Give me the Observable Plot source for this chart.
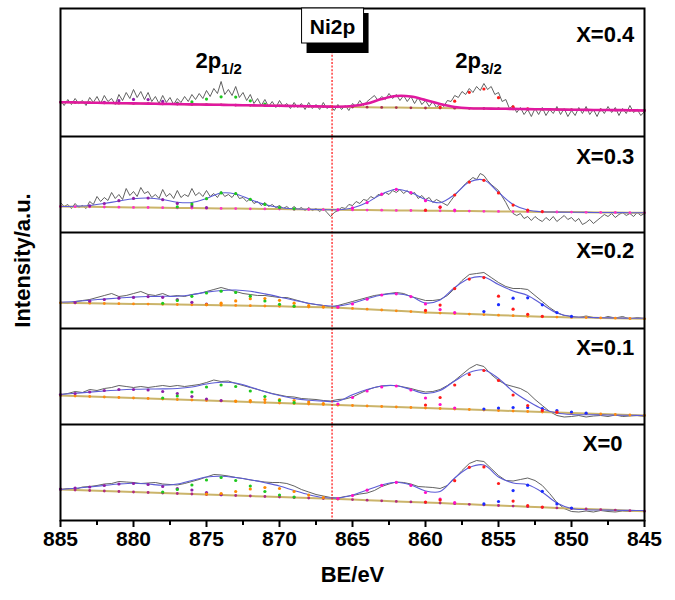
<!DOCTYPE html>
<html><head><meta charset="utf-8">
<script src="https://cdn.jsdelivr.net/npm/d3@7"></script>
<script src="https://cdn.jsdelivr.net/npm/@observablehq/plot@0.6"></script>
<style>
body{margin:0;background:#fff;}
#chart{width:675px;height:600px;}
</style></head><body><div id="chart"></div>
<script>
// ---------- DATA ----------
const panels = ["X=0.4", "X=0.3", "X=0.2", "X=0.1", "X=0"];
const xTicks = [885, 880, 875, 870, 865, 860, 855, 850, 845];
const xMinorTicks = [882.5, 877.5, 872.5, 867.5, 862.5, 857.5, 852.5, 847.5];
const refBE = 866.4;
const refLabel = "Ni2p";
const peakMain = ["2p", "2p"];
const peakSub = ["1/2", "3/2"];
const peakBE = [874.0, 856.2];
const xLabel = "BE/eV";
const yLabel = "Intensity/a.u.";

// raw spectra from 885 eV downward (X=0.4 and X=0.3 every 0.25 eV, the others every 0.5 eV)
const raw04 = [36,31,37,32, 38,33,36,31, 39,34,40,33, 41,35,38,32, 42,36,44,38, 47,39,45,37, 44,35,40,33, 41,34,39,32, 38,34,40,35, 42,37,43,38,
  46,40,48,43, 55,42,47,41, 50,39,44,36, 42,33,38,31, 37,30,35,29, 36,30,33,28, 34,29,33,27, 34,28,32,27, 34,28,31,26, 32,27,31,26,
  33,30,36,31, 35,38,41,36, 40,37,43,38, 42,36,41,35, 40,33,39,32, 36,30,35,29, 33,30,36,35, 41,39,45,42, 48,44,50,46, 53,47,50,42,
  44,35,37,28, 31,24,29,22, 27,20,28,22, 29,21,27,23, 30,22,28,20, 26,21,29,23, 30,22,27,20, 28,23,30,24, 29,21,28,23, 31,24,27,21, 25];
const raw03 = [30,26,28,24, 29,25,27,24, 31,28,36,31, 35,32,40,34, 38,33,44,37, 41,36,45,39, 41,35,38,34, 43,36,39,34, 42,35,38,36, 44,37,40,36,
  42,36,39,35, 41,36,38,35, 40,34,35,31, 34,29,31,27, 30,26,28,25, 27,24,26,23, 26,23,25,22, 25,22,24,21, 24,20,16,20, 22,25,24,28,
  27,31,29,33, 32,36,34,38, 37,40,38,42, 40,43,39,42, 38,40,34,37, 33,35,30,33, 31,29,27,32, 37,41,45,49, 52,55,53,59, 57,52,48,45,
  42,36,30,23, 19,17,19,14, 16,12,16,13, 11,15,12,16, 11,14,17,13, 15,11,14,8, 10,13,9,12, 15,18,16,19, 15,18,20,17, 19,16,20,17, 19];
const raw02 = [26,25,27,28,29,31,33,35,32,33, 35,37,34,33,35,32,33,32,34,35, 37,39,41,39,37,35,34,33,33,32, 31,31,29,27,25,24,23,21.5,23,25, 27,29,31,33,34,35,36,35,32,30, 28,28,29,33,40,48,54,55,56,51, 46,42,40,40,39,33,27,21,16,13, 12,11,12.5,11,10,12,10.5,12,9.5,11, 10];
const raw01 = [30,31,33,32,35,34,36,37,39,38, 37,38,37,38,39,38,39,38,39,40, 42,44.5,43,43.5,41,39,37,35,33,31, 29.5,28,27.5,26,25.5,25,24,23.5,25,25.5, 27.5,31,34.5,37,38.5,39,39,37.5,36,34, 32.5,33,35,39,44,50,56,60,58,50, 44,40,38,36,32,25,19,13,9,7.5, 8,9,7.5,8.5,9,8,9.5,8,8.5,9, 8];
const raw00 = [31,32,31,33.5,34,35,36.5,37,39,38.5, 38,37,37.5,38,36.5,36,35.5,37,39,41, 43.5,46,45.5,44.5,43,42,40.5,39.5,38.5,38, 38,37,34.5,31,28.5,26,24.5,23,22.5,24, 25,26.5,27.5,30,34,36.5,38.5,38,36.5,34, 33.5,33,32,35,42,50,57,60,59,52, 45,40,39.5,41,42.5,40,35,27,18,12, 9,8.5,9.5,8.5,10,9,8.5,9.5,9,10, 9];

// fitted envelopes, 885 -> 845 eV, step 1 eV
const env04 = [34.3,34.1,33.8,33.6,33.3,33.1,32.9,32.6,32.4,32.1, 31.9,31.7,31.4,31.2,30.9,30.7,30.5,30.2,30.0,29.7, 30.5,33.0,37.5,40.5,40.0,36.5,32.5,29.5,28.2,28.0, 27.8,27.6,27.4,27.2,27.0,26.8,26.6,26.5,26.4,26.2,26.0];
const env03 = [26,26.3,27,29,31.5,33.8,34.5,33,30.3,30, 34,39.5,38.5,33,28,25,23.7,23.2,22.9,22.8, 24.5,30,38.5,43.3,40,33,29.8,38,50.5,52.5, 40,28,22.5,20.7,20.4,20.3,20.1,20.0,19.9,19.8,19.7];
const env02 = [26.3,27.0,28.3,29.4,30.5,31.4,32.0,32.2,32.3,33.8, 36.4,38.0,38.5,37.2,34.6,31.5,28.2,25.2,23.0,22.4, 25.3,29.8,33.5,34.8,32.3,25.5,28.5,41.0,50.0,51.5, 44.0,37.5,33.0,24.0,15.5,12.0,11.2,10.8,10.5,10.3,10.2];
const env01 = [30,31.2,32.4,33.5,34.5,35.2,35.5,35.6,36.0,37.5, 40.5,42.2,41.5,37.5,32.8,29.0,26.0,24.3,23.4,23.3, 29.8,35.0,38.5,38.8,35.0,31.0,34.0,43.5,52.0,54.5, 46.0,33.0,23.5,15.7,11.5,10.0,9.8,9.6,9.4,9.2,9.0];
const env00 = [31,32.2,33.5,35,36.5,37.3,36.5,35.2,36.5,40, 43.5,44.3,43,40.8,37.8,34.5,30,25.8,23,22.5, 25.5,30.5,35.5,38.3,35.5,29.5,29,42.5,53,55.5, 43.5,37.5,35.7,28.3,17.5,12,10.8,10.5,10.3,10.1,10];

// backgrounds, 885 -> 845 eV, step 1 eV
const bg04 = [34.3,34.1,33.8,33.6,33.3,33.1,32.9,32.6,32.4,32.1, 31.9,31.7,31.4,31.2,30.9,30.7,30.5,30.2,30.0,29.7, 29.5,29.3,29.1,28.9,28.7,28.5,28.4,28.3,28.2,28.0, 27.8,27.6,27.4,27.2,27.0,26.8,26.6,26.5,26.4,26.2,26.0];
const bg03 = [26.0,25.8,25.7,25.5,25.3,25.1,25.0,24.8,24.6,24.4, 24.3,24.1,23.9,23.7,23.6,23.4,23.2,23.0,22.9,22.7, 22.6,22.4,22.3,22.1,22.0,21.8,21.7,21.5,21.4,21.2, 21.1,20.9,20.8,20.6,20.5,20.4,20.2,20.1,20.0,19.8,19.7];
const bg02 = [25.7,25.5,25.3,25.0,24.8,24.6,24.4,24.2,24.0,23.7, 23.5,23.3,23.1,22.8,22.5,22.2,21.8,21.5,21.2,20.8, 20.1,19.3,18.5,17.7,16.9,16.1,15.4,14.9,14.4,13.9, 13.3,12.8,12.2,11.7,11.4,11.1,10.9,10.6,10.3,10.0,9.7];
const bg01 = [29,28.5,28,27.5,27,26.5,26,25.5,25,24.5, 24,23.5,23,22.5,22,21.5,21,20.5,20,19.5, 19,18.5,18,17.5,17,16.5,16,15.5,15,14.5, 14,13.5,13,12.5,12,11.5,11,10.5,10,9.5,9];
const bg00 = [31,30.5,30,29.5,29,28.5,28,27.5,27,26.5, 26,25.5,25,24.5,24,23.5,23,22.5,22,21.5, 20.9,20.3,19.7,19.1,18.6,18.0,17.4,16.8,16.2,15.6, 15.0,14.4,13.8,13.2,12.6,12.0,11.5,10.9,10.4,9.8,9.3];

// fitted components: [BE, height above background], one list per panel (X=0.4 ... X=0)
const redComp = [
  [[859,1],[858,7],[857,16],[856,19.5],[855,11],[854,2],[853,0.3]],
  [[860,0.5],[859,3.5],[858,16],[857,29],[856,31],[855,18.5],[854,6.5],[853,1.5],[852,0.3]],
  [[860,2],[859,8],[858,25],[857,35],[856,37],[855,19],[854,6.5],[853,2],[852,0.5]],
  [[860,3],[859,11],[858,24],[857,35],[856,39.5],[855,30],[854,16],[853,6],[852,1.5],[851,0.3]],
  [[860,0.5],[859,3],[858,23],[857,37],[856,38],[855,22],[854,5],[853,1],[852,0.2]]
];
const blueComp = [
  [], [],
  [[856,3],[855,10.5],[854,17.5],[853,18.5],[852,12],[851,4.5],[850,1]],
  [[856,1],[855,2.5],[854,3.5],[853,4],[852,3.5],[851,2],[850,1],[849,0.3]],
  [[856,1],[855,4],[854,15.5],[853,21.5],[852,16],[851,4],[850,0.5]]
];
const magentaComp = [
  [],
  [[866,0],[865,2],[864,7.5],[863,16],[862,21],[861,18],[860,10],[859,4],[858,1]],
  [[866,0.5],[865,4.5],[864,10],[863,15],[862,17],[861,15],[860,8.5],[859,3.5],[858,1]],
  [[866,1],[865,8],[864,15],[863,19.5],[862,21],[861,17.5],[860,10],[859,4],[858,1]],
  [[866,0.5],[865,4],[864,10],[863,15.5],[862,19],[861,16.5],[860,10],[859,4],[858,1]]
];
const greenComp = [
  [[877,0.5],[876,2.5],[875,5.5],[874,8],[873,8],[872,4.5],[871,1.5]],
  [[877,1],[876,4],[875,9.5],[874,15.5],[873,15],[872,9.5],[871,4.5],[870,1.5],[869,0.5]],
  [[878,1],[877,4],[876,8.5],[875,12],[874,14],[873,13],[872,9.5],[871,5],[870,2],[869,0.5]],
  [[878,1],[877,3.5],[876,8],[875,13.5],[874,16],[873,15],[872,11],[871,6],[870,2.5],[869,0.8]],
  [[878,1],[877,4],[876,9],[875,14.5],[874,17.5],[873,15],[872,10],[871,5],[870,2],[869,0.5]]
];
const orangeComp = [
  [], [],
  [[875,0.5],[874,2],[873,4.5],[872,7],[871,7.5],[870,6],[869,3.5],[868,1.5],[867,0.5]],
  [[873,0.5],[872,1.5],[871,3],[870,3.5],[869,3],[868,2],[867,1],[866,0.3]],
  [[875,0.5],[874,1.5],[873,4],[872,7],[871,9],[870,8.5],[869,6],[868,3],[867,1],[866,0.3]]
];
const purpleComp = [
  [[882,0.5],[881,2.5],[880,4],[879,4],[878,2.5],[877,1]],
  [[883,1],[882,3.5],[881,6.5],[880,9],[879,9.5],[878,8],[877,4.5],[876,2],[875,0.5]],
  [[884,0.5],[883,2],[882,4],[881,5.5],[880,6.5],[879,7.5],[878,7],[877,5],[876,2.5],[875,1]],
  [[885,1],[884,2.5],[883,4.5],[882,6.5],[881,8],[880,8.5],[879,8.5],[878,7.5],[877,6],[876,3.5],[875,1.5],[874,0.5]],
  [[885,0.5],[884,2],[883,3.5],[882,5.5],[881,7.5],[880,8.5],[879,8],[878,6.5],[877,5],[876,4],[875,2],[874,0.5]]
];

// ---------- LAYOUT / STYLE ----------
const rawSets = [raw04, raw03, raw02, raw01, raw00];
const rawStep = [0.25, 0.25, 0.5, 0.5, 0.5];
const envSets = [env04, env03, env02, env01, env00];
const bgSets = [bg04, bg03, bg02, bg01, bg00];
const panelOffset = [384, 288, 192, 96, 0];
const panelTop = [512, 384, 288, 192, 96];
const labelDrop = [26, 20, 18, 19, 19];
const labelBE = [845.7, 845.7, 845.7, 845.7, 846.5];
const baseDotColor = ["#a8304c", "#ff33c4", "#ff8a10", "#ff8a10", "#b02a80"];
const compColors = {red:"#ff1a1a", blue:"#1a2cff", magenta:"#ff10c8", green:"#1ec81e", orange:"#ff8a00", purple:"#8e1fa8"};

const grid1 = d3.range(885, 844.5, -1);

const rawRows = [], envRows = [], bgRows = [], baseDots = [], compDots = [];
panels.forEach((p, i) => {
  const off = panelOffset[i];
  rawSets[i].forEach((v, j) => rawRows.push({panel: p, be: 885 - j * rawStep[i], y: off + v}));
  envSets[i].forEach((v, j) => envRows.push({panel: p, top: i === 0, be: grid1[j], y: off + v}));
  bgSets[i].forEach((v, j) => {
    bgRows.push({panel: p, be: grid1[j], y: off + v});
    baseDots.push({panel: p, be: grid1[j], y: off + v, c: baseDotColor[i]});
  });
  const comps = [["purple", purpleComp], ["orange", orangeComp], ["green", greenComp], ["blue", blueComp], ["magenta", magentaComp], ["red", redComp]];
  comps.forEach(([name, arr]) => {
    arr[i].forEach(([be, a]) => {
      const k = grid1.indexOf(be);
      compDots.push({panel: p, be, y: off + bgSets[i][k] + a, c: compColors[name]});
    });
  });
});

const font = "'Liberation Sans', Arial, Helvetica, sans-serif";

const chart = Plot.plot({
  width: 675, height: 600,
  marginTop: 8, marginBottom: 80, marginLeft: 60, marginRight: 31,
  style: {fontFamily: font, color: "black", background: "white"},
  x: {domain: [885, 845], label: null},
  y: {domain: [0, 512], axis: null},
  color: {type: "identity"},
  marks: [
    Plot.line(rawRows, {x: "be", y: "y", z: "panel", stroke: "#505050", strokeWidth: 0.9}),
    Plot.line(bgRows, {x: "be", y: "y", z: "panel", stroke: "#cbb46a", strokeWidth: 2}),
    Plot.line(envRows.filter(d => !d.top), {x: "be", y: "y", z: "panel", stroke: "#5c5cd6", strokeWidth: 1.1, curve: "catmull-rom"}),
    Plot.dot(baseDots, {x: "be", y: "y", fill: "c", r: 1.4}),
    Plot.dot(compDots, {x: "be", y: "y", fill: "c", r: 1.6}),
    Plot.line(envRows.filter(d => d.top), {x: "be", y: "y", z: "panel", stroke: "#e0189f", strokeWidth: 2.6, curve: "catmull-rom"}),
    Plot.ruleX([refBE], {stroke: "#ff2020", strokeDasharray: "2,1.6", strokeWidth: 1.3}),
    Plot.ruleY([96, 192, 288, 384], {stroke: "black", strokeWidth: 2}),
    Plot.frame({stroke: "black", strokeWidth: 2}),
    Plot.text(panels, {x: (d, i) => labelBE[i], y: (d, i) => panelTop[i] - labelDrop[i], text: d => d, textAnchor: "end", fontSize: 22, fontWeight: "bold"}),
    Plot.text(peakMain, {x: (d, i) => peakBE[i], y: 460, text: d => d, textAnchor: "end", fontSize: 22, fontWeight: "bold"}),
    Plot.text(peakSub, {x: (d, i) => peakBE[i], y: 451, text: d => d, textAnchor: "start", fontSize: 15, fontWeight: "bold"}),
    Plot.axisX(xTicks, {anchor: "bottom", tickSize: 7, tickPadding: 4, strokeWidth: 2, fontSize: 21, fontWeight: "bold", tickFormat: d => String(d), label: null}),
    Plot.axisX(xMinorTicks, {anchor: "bottom", tickSize: 5, strokeWidth: 2, tickFormat: () => "", label: null}),
    Plot.text([yLabel], {frameAnchor: "left", textAnchor: "middle", dx: -38, dy: -4, rotate: -90, fontSize: 22, fontWeight: "bold", text: d => d}),
    Plot.text([xLabel], {frameAnchor: "bottom", textAnchor: "middle", dy: 61, fontSize: 22, fontWeight: "bold", text: d => d})
  ]
});

// Ni2p annotation box positioned through the x scale
const ns = "http://www.w3.org/2000/svg";
const cx = chart.scale("x").apply(refBE);
const g = document.createElementNS(ns, "g");
const shadow = document.createElementNS(ns, "rect");
shadow.setAttribute("x", cx - 25); shadow.setAttribute("y", 13);
shadow.setAttribute("width", 62); shadow.setAttribute("height", 40);
shadow.setAttribute("fill", "black");
const box = document.createElementNS(ns, "rect");
box.setAttribute("x", cx - 30); box.setAttribute("y", 8);
box.setAttribute("width", 62); box.setAttribute("height", 35);
box.setAttribute("fill", "white"); box.setAttribute("stroke", "black"); box.setAttribute("stroke-width", 1);
const t = document.createElementNS(ns, "text");
t.setAttribute("x", cx + 1); t.setAttribute("y", 26);
t.setAttribute("text-anchor", "middle"); t.setAttribute("dominant-baseline", "central");
t.setAttribute("font-size", 21); t.setAttribute("font-weight", "bold");
t.setAttribute("font-family", font);
t.textContent = refLabel;
g.append(shadow, box, t);
chart.appendChild(g);

document.getElementById("chart").appendChild(chart);
</script>
</body></html>
